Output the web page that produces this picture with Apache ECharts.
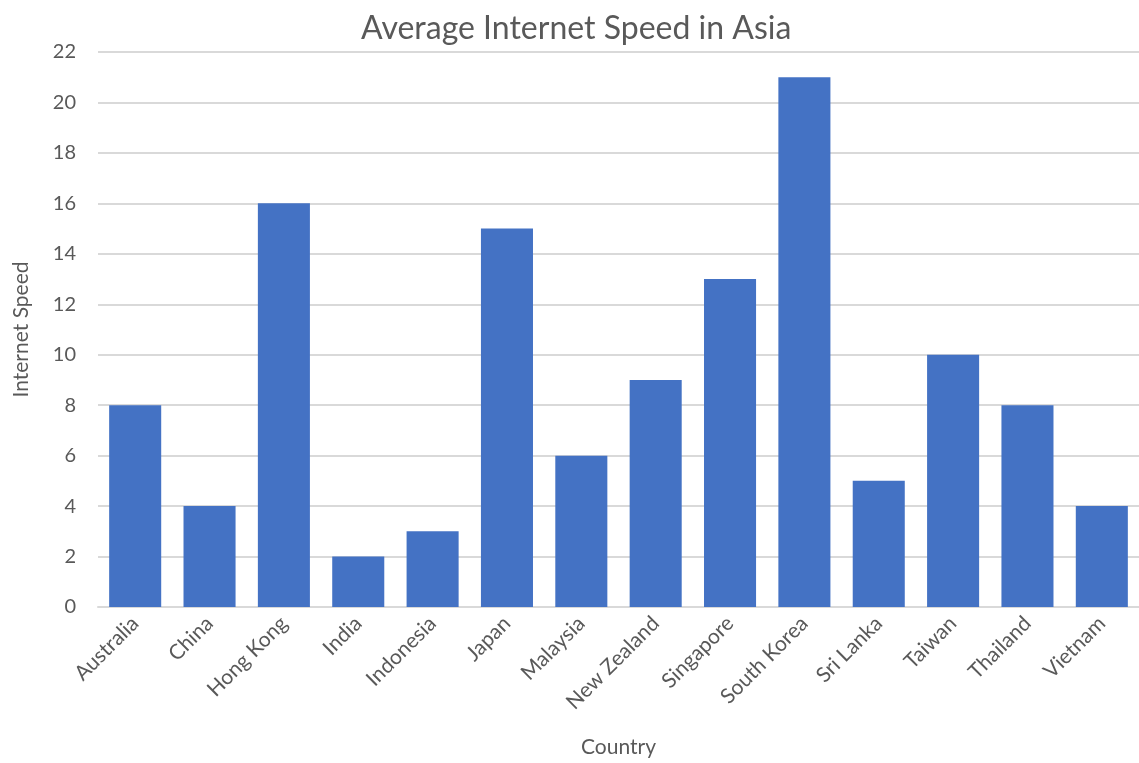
<!DOCTYPE html>
<html>
<head>
<meta charset="utf-8">
<script src="https://cdn.jsdelivr.net/npm/echarts@6/dist/echarts.min.js"></script>
<style>
  html, body { margin: 0; padding: 0; background: #fff; }
  #chart { width: 1139px; height: 763px; }
</style>
</head>
<body>
<div id="chart"></div>
<script>
// Average internet speed by country
const countries = ['Australia', 'China', 'Hong Kong', 'India', 'Indonesia', 'Japan', 'Malaysia',
  'New Zealand', 'Singapore', 'South Korea', 'Sri Lanka', 'Taiwan', 'Thailand', 'Vietnam'];
const speeds = [8, 4, 16, 2, 3, 15, 6, 9, 13, 21, 5, 10, 8, 4];
const yTicks = { min: 0, max: 22, interval: 2 };

const font = 'Lato, "Open Sans", sans-serif';
const textColor = '#595959';
const lineColor = '#d9d9d9';

const chart = echarts.init(document.getElementById('chart'));
chart.setOption({
  animation: false,
  title: {
    text: 'Average Internet Speed in Asia',
    left: 361,
    top: 13,
    padding: 0,
    textStyle: { fontFamily: font, fontSize: 32, fontWeight: 'normal', color: textColor }
  },
  grid: { left: 98, right: 0, top: 52, bottom: 156, outerBoundsMode: 'none', containLabel: false },
  xAxis: {
    type: 'category',
    data: countries,
    name: 'Country',
    nameLocation: 'middle',
    nameGap: 130,
    nameTextStyle: { fontFamily: font, fontSize: 21, color: textColor },
    axisLine: { lineStyle: { color: lineColor, width: 2 } },
    axisTick: { show: false },
    axisLabel: {
      interval: 0,
      rotate: 45,
      margin: 13,
      fontFamily: font,
      fontSize: 21,
      color: textColor
    }
  },
  yAxis: {
    type: 'value',
    min: yTicks.min,
    max: yTicks.max,
    interval: yTicks.interval,
    name: 'Internet Speed',
    nameLocation: 'middle',
    nameRotate: 90,
    nameGap: 66,
    nameTextStyle: { fontFamily: font, fontSize: 21, color: textColor },
    axisLine: { show: false },
    axisTick: { show: false },
    axisLabel: { margin: 22, fontFamily: font, fontSize: 20, color: textColor },
    splitLine: { lineStyle: { color: lineColor, width: 2 } }
  },
  series: [{
    type: 'bar',
    data: speeds,
    barCategoryGap: '30%',
    itemStyle: { color: '#4472C4' }
  }]
});
</script>
</body>
</html>
